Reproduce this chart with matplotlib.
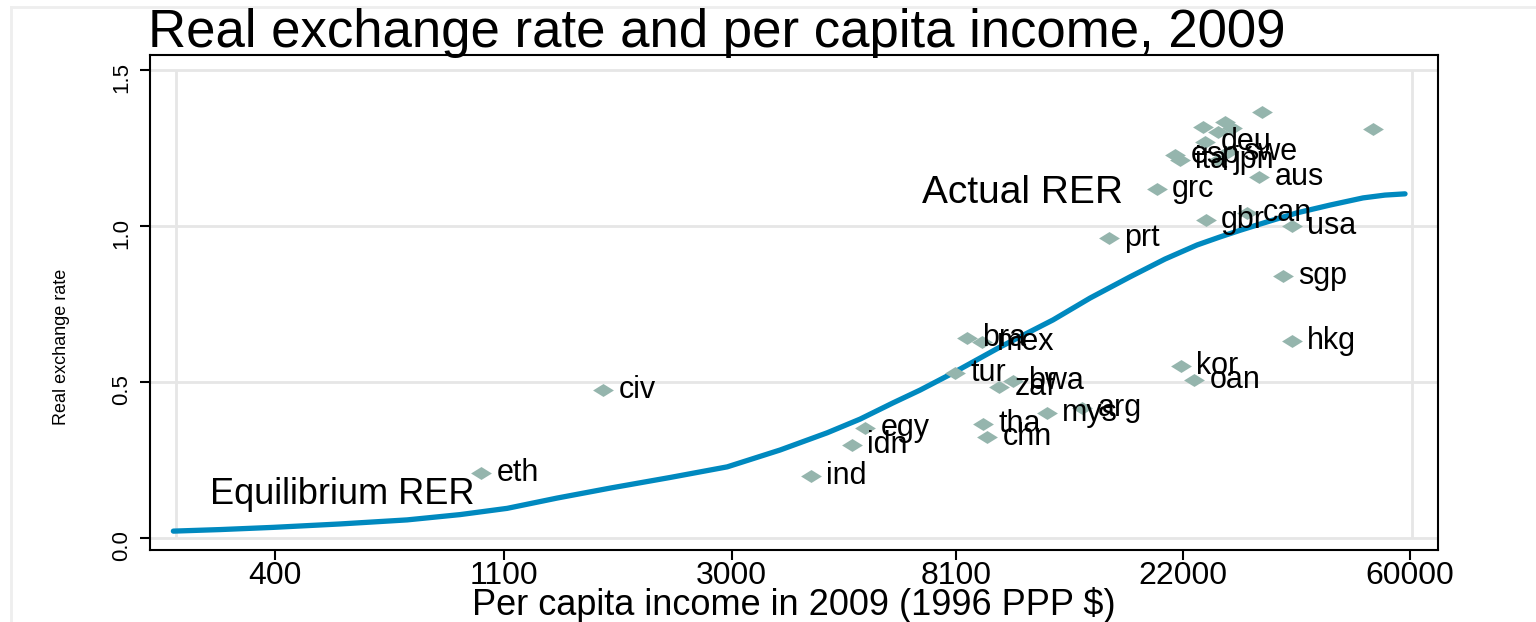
import matplotlib
matplotlib.use("Agg")
import matplotlib.pyplot as plt
from matplotlib.lines import Line2D

plt.rcParams['font.family'] = ['Liberation Sans', 'DejaVu Sans']

# countries: income in 2009 (1996 PPP $) and real exchange rate
paises = ["eth", "civ", "ind", "idn", "egy", "tur", "bra", "mex", "zaf", "bwa",
          "tha", "chn", "mys", "arg", "kor", "oan", "prt", "grc", "gbr", "can",
          "usa", "sgp", "hkg", "aus", "deu", "esp", "ita", "swe", "jpn",
          "", "", "", "", "", ""]
ingreso = [993, 1702, 4264, 5110, 5412, 8052, 8490, 9073, 9781, 10402,
           9113, 9274, 12090, 14108, 21840, 23130, 15885, 19640, 24385, 29240,
           35650, 34250, 35650, 30820, 24280, 21270, 21750, 26900, 25740,
           31230, 24070, 26530, 27360, 25740, 51000]
rer = [0.208, 0.474, 0.199, 0.298, 0.353, 0.529, 0.641, 0.628, 0.484, 0.503,
       0.365, 0.324, 0.401, 0.417, 0.551, 0.506, 0.962, 1.119, 1.019, 1.042,
       1.000, 0.840, 0.631, 1.157, 1.269, 1.228, 1.212, 1.237, 1.212,
       1.365, 1.317, 1.333, 1.314, 1.301, 1.311]

# fitted equilibrium RER
eq_ingreso = [255, 314, 396, 533, 716, 905, 1114, 1389, 1756, 2288, 2944,
              3718, 4575, 5293, 6121, 6899, 7981, 9821, 12413, 14617, 17440,
              20350, 23440, 25960, 28330, 32360, 36440, 42170, 48800, 53760, 58740]
eq_rer = [0.022, 0.027, 0.034, 0.045, 0.058, 0.075, 0.095, 0.128, 0.160, 0.194, 0.228,
          0.282, 0.337, 0.381, 0.433, 0.474, 0.529, 0.612, 0.699, 0.769, 0.837,
          0.894, 0.939, 0.965, 0.986, 1.016, 1.042, 1.067, 1.090, 1.099, 1.103]

xticks = [400, 1100, 3000, 8100, 22000, 60000]
yticks = [0.0, 0.5, 1.0, 1.5]

azul = "#0089bf"
gris_verde = "#95b5ad"
gris = "#e6e6e6"

fig = plt.figure(figsize=(15.36, 6.22), dpi=100)
ax = fig.add_axes([150 / 1536, 72 / 622, 1288 / 1536, 495 / 622])
ax.set_xscale('log')
ax.set_xlim(230, 67950)
ax.set_ylim(-0.0385, 1.548)

# light grid and inner plot region
for y in yticks:
    ax.axhline(y, color=gris, lw=2, zorder=0)
ax.vlines([258, 60500], 0, 1.5, color=gris, lw=2, zorder=0)

ax.plot(eq_ingreso, eq_rer, color=azul, lw=3.8, solid_capstyle='round',
        solid_joinstyle='round', zorder=2)

diamante = [(-1, 0), (0, 0.62), (1, 0), (0, -0.62), (-1, 0)]
ax.scatter(ingreso, rer, marker=diamante, s=15 ** 2, color=gris_verde,
           linewidths=0, zorder=3)
for i in range(len(paises)):
    if paises[i] != "":
        ax.annotate(paises[i], (ingreso[i], rer[i]), xytext=(11, 0),
                    textcoords='offset points', va='center', ha='left',
                    fontsize=22, zorder=4)

ax.text(6965, 1.106, "Actual RER", fontsize=28, va='center', ha='left')
ax.text(300, 0.138, "Equilibrium RER", fontsize=26, va='center', ha='left')

ax.set_xticks(xticks)
ax.set_xticklabels([str(v) for v in xticks])
ax.minorticks_off()
ax.set_yticks(yticks)
ax.set_yticklabels(["0.0", "0.5", "1.0", "1.5"])
ax.tick_params(axis='x', length=7, width=1.5, labelsize=23, pad=1)
ax.tick_params(axis='y', length=7, width=1.5, labelsize=16, pad=6, labelrotation=90)
for s in ax.spines.values():
    s.set_linewidth(1.5)

ax.set_xlabel("Per capita income in 2009 (1996 PPP $)", fontsize=26, labelpad=-3)
ax.set_ylabel("Real exchange rate", fontsize=13)
ax.yaxis.set_label_coords(-0.062, 0.41)

fig.text(148 / 1536, 1 - 47 / 622, "Real exchange rate and per capita income, 2009",
         fontsize=38, ha='left', va='baseline')

# outer graph region border
fig.add_artist(Line2D([11 / 1536, 1], [1 - 7 / 622, 1 - 7 / 622], color="#eeeeee", lw=2))
fig.add_artist(Line2D([11 / 1536, 11 / 1536], [0, 1 - 7 / 622], color="#eeeeee", lw=2))

fig.savefig("out.png", dpi=100)
